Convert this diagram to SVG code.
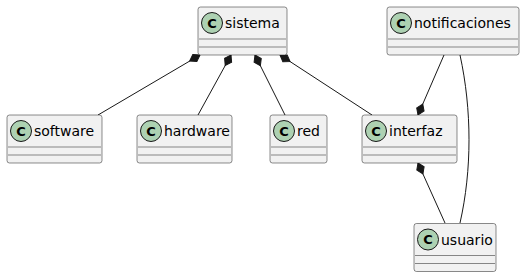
<svg xmlns="http://www.w3.org/2000/svg" width="528" height="277" viewBox="0 0 528 277">
  <style>
    .box { fill: #F1F1F1; stroke: #181818; stroke-width: 0.5; }
    .sep { stroke: #181818; stroke-width: 0.5; }
    .spot { fill: #ADD1B2; stroke: #181818; stroke-width: 1; }
    .spotc { font-family: "DejaVu Sans", sans-serif; font-size: 13px; font-weight: bold; fill: #000000; text-anchor: middle; }
    .name { font-family: "DejaVu Sans", sans-serif; font-size: 14px; fill: #000000; }
    .link { fill: none; stroke: #181818; stroke-width: 1; }
  </style>
  <defs>
    <marker id="composition" markerUnits="userSpaceOnUse" markerWidth="14" markerHeight="10" viewBox="0 -5 14 10" refX="0" refY="0" orient="auto" overflow="visible">
      <path d="M0,0 L6,-4 L12,0 L6,4 Z" fill="#181818" stroke="#181818" stroke-width="1"/>
    </marker>
  </defs>
  <rect width="528" height="277" fill="#FFFFFF"/>

  <g id="connectors">
    <path class="link" d="M200,55 L98,115" marker-start="url(#composition)"/>
    <path class="link" d="M231,55 L198,115" marker-start="url(#composition)"/>
    <path class="link" d="M255,55 L285,115" marker-start="url(#composition)"/>
    <path class="link" d="M280,55 L372,115" marker-start="url(#composition)"/>
    <path class="link" d="M418,115 L444,55" marker-start="url(#composition)"/>
    <path class="link" d="M418,163 L445,223" marker-start="url(#composition)"/>
    <path class="link" d="M460,55 C472,110 472,170 460,223"/>
  </g>

  <g id="sistema">
    <rect class="box" x="198" y="7" width="89" height="48" rx="2.5"/>
    <circle class="spot" cx="212" cy="23" r="10.5"/>
    <text class="spotc" x="212" y="27.5">C</text>
    <text class="name" x="225" y="28">sistema</text>
    <line class="sep" x1="199" y1="39" x2="286" y2="39"/>
    <line class="sep" x1="199" y1="47" x2="286" y2="47"/>
  </g>

  <g id="notificaciones">
    <rect class="box" x="387" y="7" width="132" height="48" rx="2.5"/>
    <circle class="spot" cx="401" cy="23" r="10.5"/>
    <text class="spotc" x="401" y="27.5">C</text>
    <text class="name" x="414" y="28">notificaciones</text>
    <line class="sep" x1="388" y1="39" x2="518" y2="39"/>
    <line class="sep" x1="388" y1="47" x2="518" y2="47"/>
  </g>

  <g id="software">
    <rect class="box" x="7" y="115" width="95" height="48" rx="2.5"/>
    <circle class="spot" cx="21" cy="131" r="10.5"/>
    <text class="spotc" x="21" y="135.5">C</text>
    <text class="name" x="34" y="136">software</text>
    <line class="sep" x1="8" y1="147" x2="101" y2="147"/>
    <line class="sep" x1="8" y1="155" x2="101" y2="155"/>
  </g>

  <g id="hardware">
    <rect class="box" x="137" y="115" width="95" height="48" rx="2.5"/>
    <circle class="spot" cx="151" cy="131" r="10.5"/>
    <text class="spotc" x="151" y="135.5">C</text>
    <text class="name" x="164" y="136">hardware</text>
    <line class="sep" x1="138" y1="147" x2="231" y2="147"/>
    <line class="sep" x1="138" y1="155" x2="231" y2="155"/>
  </g>

  <g id="red">
    <rect class="box" x="270" y="115" width="57" height="48" rx="2.5"/>
    <circle class="spot" cx="284" cy="131" r="10.5"/>
    <text class="spotc" x="284" y="135.5">C</text>
    <text class="name" x="297" y="136">red</text>
    <line class="sep" x1="271" y1="147" x2="326" y2="147"/>
    <line class="sep" x1="271" y1="155" x2="326" y2="155"/>
  </g>

  <g id="interfaz">
    <rect class="box" x="362" y="115" width="95" height="48" rx="2.5"/>
    <circle class="spot" cx="376" cy="131" r="10.5"/>
    <text class="spotc" x="376" y="135.5">C</text>
    <text class="name" x="389" y="136">interfaz</text>
    <line class="sep" x1="363" y1="147" x2="456" y2="147"/>
    <line class="sep" x1="363" y1="155" x2="456" y2="155"/>
  </g>

  <g id="usuario">
    <rect class="box" x="414" y="223.5" width="82" height="48" rx="2.5"/>
    <circle class="spot" cx="428" cy="239.5" r="10.5"/>
    <text class="spotc" x="428" y="244">C</text>
    <text class="name" x="441" y="244.5">usuario</text>
    <line class="sep" x1="415" y1="255.5" x2="495" y2="255.5"/>
    <line class="sep" x1="415" y1="263.5" x2="495" y2="263.5"/>
  </g>
</svg>
